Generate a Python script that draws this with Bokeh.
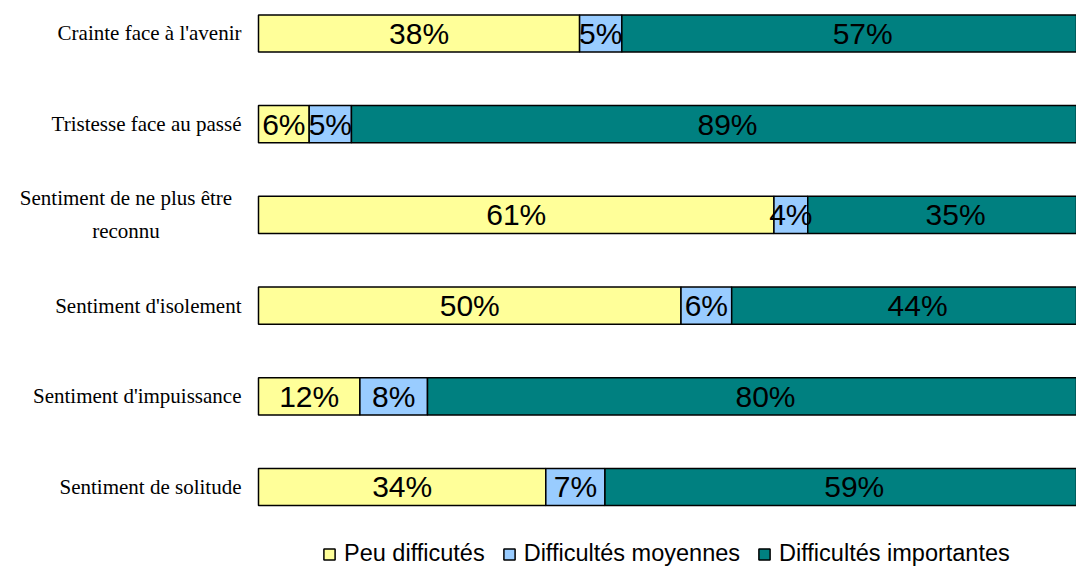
from bokeh.plotting import figure
from bokeh.models import ColumnDataSource, Range1d, Legend, LegendItem
from bokeh.core.properties import value
from bokeh.embed import file_html
from bokeh.resources import INLINE

categories = ["Crainte face à l'avenir", "Tristesse face au passé",
              "Sentiment de ne plus être\nreconnu", "Sentiment d'isolement",
              "Sentiment d'impuissance", "Sentiment de solitude"]
peu = [38, 6, 61, 50, 12, 34]
moyennes = [5, 5, 4, 6, 8, 7]
importantes = [57, 89, 35, 44, 80, 59]
series_names = ["Peu difficutés", "Difficultés moyennes", "Difficultés importantes"]
colors = ["#FFFF99", "#99CCFF", "#008080"]

n = len(categories)
ypos = [n - 1 - i for i in range(n)]

l1 = [0.0] * n
r1 = [a / 100 for a in peu]
l2 = r1
r2 = [(a + b) / 100 for a, b in zip(peu, moyennes)]
l3 = r2
r3 = [(a + b + c) / 100 for a, b, c in zip(peu, moyennes, importantes)]

src = ColumnDataSource(dict(
    y=ypos, l1=l1, r1=r1, l2=l2, r2=r2, l3=l3, r3=r3,
    c1=[(a + b) / 2 for a, b in zip(l1, r1)],
    c2=[(a + b) / 2 for a, b in zip(l2, r2)],
    c3=[(a + b) / 2 for a, b in zip(l3, r3)],
    t1=[f"{v}%" for v in peu],
    t2=[f"{v}%" for v in moyennes],
    t3=[f"{v}%" for v in importantes],
))

p = figure(width=1076, height=568, output_backend="svg", toolbar_location=None,
           x_range=Range1d(-0.30533, 0.96805), y_range=Range1d(-0.8986, 5.3638),
           min_border=0, min_border_left=0, min_border_right=0,
           min_border_top=0, min_border_bottom=0)
p.xaxis.visible = False
p.yaxis.visible = False
p.grid.visible = False
p.outline_line_color = None

renderers = []
for (lk, rk), col in zip([("l1", "r1"), ("l2", "r2"), ("l3", "r3")], colors):
    r = p.hbar(y="y", left=lk, right=rk, height=0.41, fill_color=col,
               line_color="black", line_width=1.5, source=src)
    renderers.append(r)

for ck, tk in [("c1", "t1"), ("c2", "t2"), ("c3", "t3")]:
    p.text(x=ck, y="y", text=tk, source=src, text_align="center",
           text_baseline="middle", text_font=value("Liberation Sans"),
           text_font_size="30px", text_color="black")

single = [i for i, c in enumerate(categories) if "\n" not in c]
multi = [i for i, c in enumerate(categories) if "\n" in c]
p.text(x=[0.0] * len(single), y=[ypos[i] for i in single],
       text=[categories[i] for i in single], x_offset=-17,
       text_align="right", text_baseline="middle",
       text_font=value("Liberation Serif"), text_font_size="21px",
       text_color="black")
p.text(x=[0.0] * len(multi), y=[ypos[i] for i in multi],
       text=[categories[i] for i in multi], x_offset=-132.5,
       text_align="center", text_baseline="middle", text_line_height=1.38,
       text_font=value("Liberation Serif"), text_font_size="21px",
       text_color="black")

legend = Legend(items=[LegendItem(label=nm, renderers=[r]) for nm, r in zip(series_names, renderers)],
                orientation="horizontal", location=(322, 1),
                glyph_width=14, glyph_height=14, label_standoff=8, spacing=17,
                label_text_font="Liberation Sans", label_text_font_size="23.5px",
                label_text_color="black",
                padding=0, margin=0, border_line_color=None,
                background_fill_alpha=0)
p.add_layout(legend)

open("out.html", "w").write(file_html(p, INLINE))
